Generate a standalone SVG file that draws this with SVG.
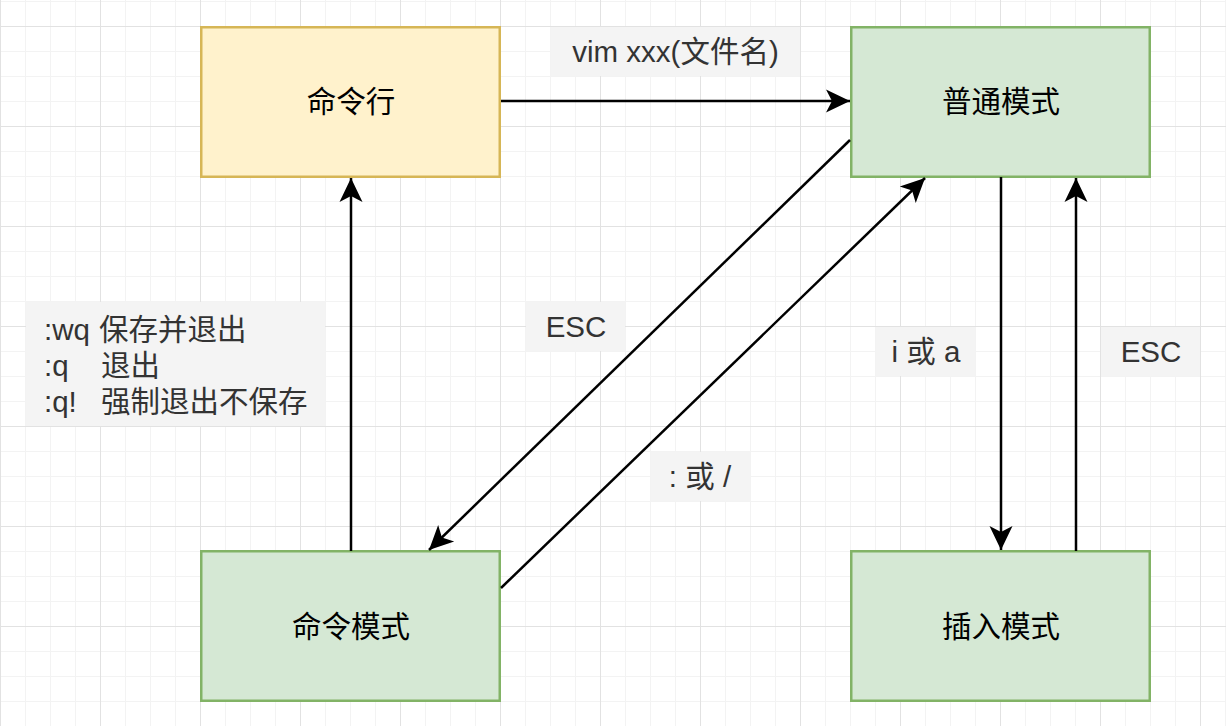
<svg xmlns="http://www.w3.org/2000/svg" width="1226" height="726" viewBox="0 0 1226 726">
<defs>
<pattern id="minor" x="0" y="1" width="25" height="25" patternUnits="userSpaceOnUse">
<path d="M 0 0.5 H 25 M 0.5 0 V 25" fill="none" stroke="#f3f3f3" stroke-width="1"/>
</pattern>
<pattern id="major" x="0" y="26" width="100" height="100" patternUnits="userSpaceOnUse">
<path d="M 0 0.5 H 100 M 0.5 0 V 100" fill="none" stroke="#e2e2e2" stroke-width="1"/>
</pattern>
<marker id="arr" markerUnits="userSpaceOnUse" markerWidth="26" markerHeight="26" viewBox="0 -13 26 26" refX="24" refY="0" orient="auto">
<path d="M 24 0 L 0 -11.5 L 6 0 L 0 11.5 Z" fill="#000"/>
</marker>
<style>
.yellow{fill:#fff2cc;stroke:#d6b656;stroke-width:2.5}
.green{fill:#d5e8d4;stroke:#82b366;stroke-width:2.5}
.t{font-family:"Liberation Sans","Noto Sans CJK SC",sans-serif;font-size:29.5px;fill:#000;text-anchor:middle}
.lbl{font-family:"Liberation Sans","Noto Sans CJK SC",sans-serif;font-size:29.5px;fill:#333}
.bg{fill:#f4f4f4}
.edge{fill:none;stroke:#000;stroke-width:2.5;marker-end:url(#arr)}
</style>
</defs>
<rect width="1226" height="726" fill="#fff"/>
<rect width="1226" height="726" fill="url(#minor)"/>
<rect width="1226" height="726" fill="url(#major)"/>

<g id="node-cmdline">
<rect class="yellow" x="201.25" y="27.25" width="298.5" height="149.5"/>
<text class="t" x="351" y="112">命令行</text>
</g>
<g id="node-normal">
<rect class="green" x="851.25" y="27.25" width="298.5" height="149.5"/>
<text class="t" x="1001" y="112">普通模式</text>
</g>
<g id="node-command">
<rect class="green" x="201.25" y="551.25" width="298.5" height="149.5"/>
<text class="t" x="351" y="637">命令模式</text>
</g>
<g id="node-insert">
<rect class="green" x="851.25" y="551.25" width="298.5" height="149.5"/>
<text class="t" x="1001" y="637">插入模式</text>
</g>

<g id="connectors">
<line class="edge" x1="501" y1="101" x2="850" y2="101"/>
<line class="edge" x1="850" y1="140" x2="429" y2="550"/>
<line class="edge" x1="501" y1="588" x2="925" y2="178"/>
<line class="edge" x1="1001" y1="177" x2="1001" y2="550"/>
<line class="edge" x1="1076" y1="551" x2="1076" y2="178"/>
<line class="edge" x1="351" y1="551" x2="351" y2="178"/>
</g>

<g id="labels">
<g id="label-vim">
<rect class="bg" x="551" y="27" width="249" height="49"/>
<text class="lbl" x="675.5" y="62" text-anchor="middle">vim xxx(文件名)</text>
</g>
<g id="label-esc1">
<rect class="bg" x="526" y="302" width="99" height="49"/>
<text class="lbl" x="576" y="337" text-anchor="middle">ESC</text>
</g>
<g id="label-colon">
<rect class="bg" x="651" y="452" width="99" height="49"/>
<text class="lbl" x="700" y="487" text-anchor="middle">: 或 /</text>
</g>
<g id="label-ia">
<rect class="bg" x="876" y="327" width="99" height="49"/>
<text class="lbl" x="926" y="362" text-anchor="middle">i 或 a</text>
</g>
<g id="label-esc2">
<rect class="bg" x="1101" y="327" width="99" height="49"/>
<text class="lbl" x="1151" y="362" text-anchor="middle">ESC</text>
</g>
<g id="label-quit">
<rect class="bg" x="26" y="302" width="299" height="124"/>
<text class="lbl"><tspan x="44" y="340">:wq</tspan><tspan x="99" y="340">保存并退出</tspan><tspan x="44" y="376">:q</tspan><tspan x="101" y="376">退出</tspan><tspan x="44" y="412">:q!</tspan><tspan x="101" y="412">强制退出不保存</tspan></text>
</g>
</g>
</svg>
